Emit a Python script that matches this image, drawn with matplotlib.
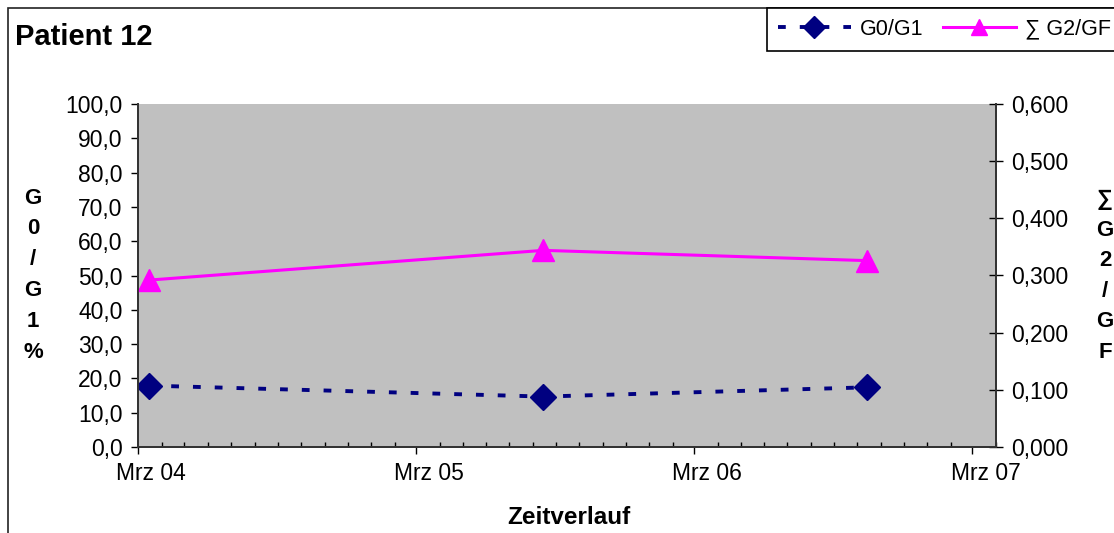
import datetime as dt

import matplotlib
matplotlib.use("Agg")
import matplotlib.pyplot as plt
import matplotlib.dates as mdates
from matplotlib.patches import Rectangle
from matplotlib.ticker import FixedLocator, FuncFormatter, MultipleLocator
from matplotlib.transforms import ScaledTranslation

plt.rcParams['font.family'] = ['Liberation Sans', 'DejaVu Sans']

# Messwerte
dates = [dt.date(2004, 3, 16), dt.date(2005, 8, 15), dt.date(2006, 10, 14)]
g0_g1 = [17.9, 14.7, 17.4]
sum_g2_gf = [0.292, 0.344, 0.326]

title = "Patient 12"
left_label = "G0/G1%"
right_label = "∑G2/GF"
x_label = "Zeitverlauf"
year_labels = ["Mrz 04", "Mrz 05", "Mrz 06", "Mrz 07"]
year_ticks = [dt.date(2004, 3, 1), dt.date(2005, 3, 1), dt.date(2006, 3, 1), dt.date(2007, 3, 1)]

W, H = 1114, 533
fig = plt.figure(figsize=(W / 100, H / 100), dpi=100)
fig.patch.set_facecolor("white")

# Rahmen des Diagrammbereichs
fig.add_artist(Rectangle((8 / W, -1), 2, 1 + (1 - 8 / H), transform=fig.transFigure,
                         fill=False, edgecolor="#222222", linewidth=1.2))

ax = fig.add_axes([138 / W, 1 - 447 / H, (996 - 138) / W, (447 - 104) / H])
ax.set_facecolor("#C0C0C0")
ax2 = ax.twinx()

l1, = ax.plot(dates, g0_g1, color="#000080", linewidth=2.8, linestyle=(0, (2.0, 3.6)),
              marker="D", markersize=13.5, markeredgecolor="#000080", label="G0/G1",
              zorder=3)
l2, = ax2.plot(dates, sum_g2_gf, color="#FF00FF", linewidth=2.2,
               marker="^", markersize=16.5, markeredgecolor="#FF00FF", label="∑ G2/GF")

ax.set_xlim(dt.date(2004, 3, 1), dt.date(2007, 4, 1))
ax.set_ylim(0, 100)
ax2.set_ylim(0, 0.6)

ax.yaxis.set_major_locator(MultipleLocator(10))
ax.yaxis.set_major_formatter(FuncFormatter(lambda v, p: f"{v:.1f}".replace(".", ",")))
ax2.yaxis.set_major_locator(MultipleLocator(0.1))
ax2.yaxis.set_major_formatter(FuncFormatter(lambda v, p: f"{v:.3f}".replace(".", ",")))

ax.xaxis.set_major_locator(FixedLocator(mdates.date2num(year_ticks)))
ax.set_xticklabels(year_labels)
ax.xaxis.set_minor_locator(mdates.MonthLocator())

for a in (ax, ax2):
    for s in a.spines.values():
        s.set_color("#333333")
        s.set_linewidth(1.3)
    a.spines["top"].set_visible(False)

ax.tick_params(axis="y", direction="out", length=5, width=1, pad=6, labelsize=16.5,
               colors="black")
ax2.tick_params(axis="y", direction="inout", length=10, width=1, pad=6, labelsize=16.5)
ax.tick_params(axis="x", which="major", direction="out", length=5, width=1, pad=6,
               labelsize=16.5)
ax.tick_params(axis="x", which="minor", direction="in", length=3.6, width=1)

shift = ScaledTranslation(13 / 100, 0, fig.dpi_scale_trans)
for lbl in ax.get_xticklabels():
    lbl.set_transform(lbl.get_transform() + shift)

# Beschriftungen
fig.text(15 / W, 1 - 45 / H, title, fontsize=21, fontweight="bold", va="baseline")
fig.text(569 / W, 1 - 517 / H, x_label, fontsize=17.5, fontweight="bold",
         ha="center", va="center")
for i, ch in enumerate(left_label):
    fig.text(33 / W, 1 - (198 + i * 30.8) / H, ch, fontsize=16, fontweight="bold",
             ha="center", va="center")
for i, ch in enumerate(right_label):
    fig.text(1105 / W, 1 - (200 + i * 30.4) / H, ch, fontsize=16, fontweight="bold",
             ha="center", va="center")

leg = fig.legend(handles=[l1, l2], loc="upper left", bbox_to_anchor=(767 / W, 1 - 8 / H),
                 ncol=2, fontsize=15.5, frameon=True, fancybox=False, framealpha=1,
                 edgecolor="black", borderaxespad=0, borderpad=0.5, handlelength=3.4,
                 handletextpad=0.42, columnspacing=0.9)
leg.get_frame().set_linewidth(1.2)
for h in leg.legend_handles:
    h.set_markersize(11)

fig.savefig("out.png", dpi=100)
